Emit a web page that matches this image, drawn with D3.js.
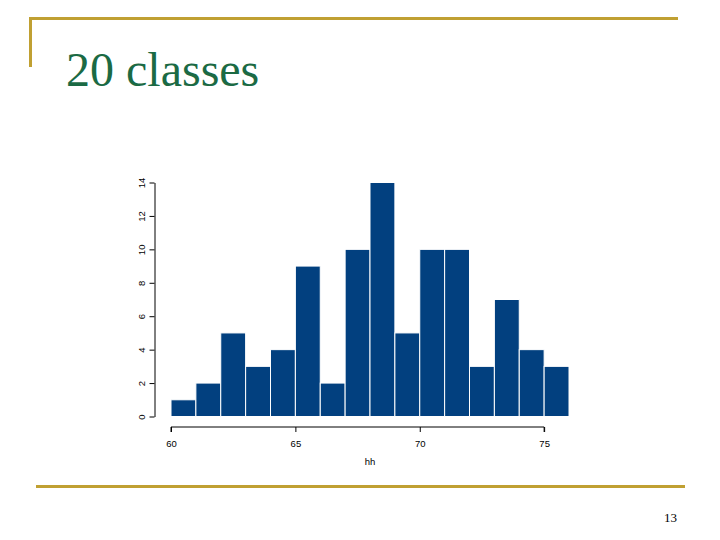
<!DOCTYPE html>
<html>
<head>
<meta charset="utf-8">
<title>20 classes</title>
<script src="https://d3js.org/d3.v7.min.js"></script>
<style>
  body { margin: 0; background: #fff; }
  svg { display: block; }
</style>
</head>
<body>
<svg id="chart" width="720" height="540"></svg>
<script>
// histogram bins (left edges) and counts
var binEdges = [60, 61, 62, 63, 64, 65, 66, 67, 68, 69, 70, 71, 72, 73, 74, 75, 76];
var counts = [1, 2, 5, 3, 4, 9, 2, 10, 14, 5, 10, 10, 3, 7, 4, 3];
var xTicks = [60, 65, 70, 75];
var yTicks = [0, 2, 4, 6, 8, 10, 12, 14];

var gold = "#c0a032";
var svg = d3.select("#chart");

// slide decoration
svg.append("rect").attr("x", 29).attr("y", 17).attr("width", 649).attr("height", 3).attr("fill", gold);
svg.append("rect").attr("x", 29).attr("y", 17).attr("width", 3).attr("height", 50).attr("fill", gold);
svg.append("rect").attr("x", 36).attr("y", 485).attr("width", 649).attr("height", 3).attr("fill", gold);

svg.append("text")
  .attr("x", 66).attr("y", 86)
  .style("font-family", "'Liberation Serif', 'Times New Roman', serif")
  .style("font-size", "48px")
  .style("fill", "#1b6a44")
  .text("20 classes");

svg.append("text")
  .attr("x", 677).attr("y", 522)
  .attr("text-anchor", "end")
  .style("font-family", "'Liberation Serif', 'Times New Roman', serif")
  .style("font-size", "13px")
  .style("fill", "#000")
  .text("13");

// scales
var x = d3.scaleLinear().domain([60, 76]).range([171, 569]);
var y = d3.scaleLinear().domain([0, 14]).range([416.5, 182.5]);

var bins = counts.map(function(c, i) { return { x0: binEdges[i], x1: binEdges[i + 1], n: c }; });

svg.selectAll(".bar")
  .data(bins)
  .enter().append("rect")
  .attr("class", "bar")
  .attr("x", function(d) { return x(d.x0); })
  .attr("y", function(d) { return y(d.n); })
  .attr("width", function(d) { return x(d.x1) - x(d.x0); })
  .attr("height", function(d) { return y(0) - y(d.n); })
  .style("fill", "#02407f")
  .style("stroke", "#fff")
  .style("stroke-width", 1);

var axisFont = "'Liberation Sans', Arial, sans-serif";

// x axis
var xAxis = svg.append("g")
  .attr("transform", "translate(0,427)")
  .call(d3.axisBottom(x).tickValues(xTicks).tickSize(5).tickSizeOuter(0).tickPadding(8).tickFormat(d3.format("d")));
xAxis.select(".domain").attr("d", "M" + x(60) + ",5V0H" + x(75) + "V5");
xAxis.selectAll("text").style("font-family", axisFont).style("font-size", "9.5px").style("fill", "#000");
xAxis.selectAll("line, path").style("stroke", "#000");

svg.append("text")
  .attr("x", 370).attr("y", 465)
  .attr("text-anchor", "middle")
  .style("font-family", axisFont)
  .style("font-size", "9.5px")
  .text("hh");

// y axis
var yAxis = svg.append("g")
  .attr("transform", "translate(154.5,0)")
  .call(d3.axisLeft(y).tickValues(yTicks).tickSize(5).tickSizeOuter(0).tickPadding(0));
yAxis.selectAll("line, path").style("stroke", "#000");
yAxis.selectAll(".tick text")
  .attr("x", null).attr("dy", null)
  .attr("text-anchor", "middle")
  .attr("transform", "translate(-13,0) rotate(-90)")
  .attr("y", 0)
  .attr("dy", "0.35em")
  .style("font-family", axisFont)
  .style("font-size", "9.5px")
  .style("fill", "#000");
</script>
</body>
</html>
